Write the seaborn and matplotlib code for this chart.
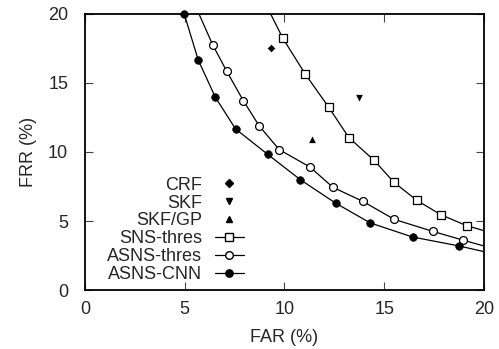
import numpy as np
import pandas as pd
import matplotlib.pyplot as plt
from matplotlib.lines import Line2D
import seaborn as sns

# values (FAR %, FRR %)
cnn_far = [4.98, 5.68, 6.53, 7.55, 9.16, 10.8, 12.56, 14.3, 16.42, 18.76]
cnn_frr = [20.0, 16.67, 13.99, 11.67, 9.83, 7.99, 6.30, 4.86, 3.84, 3.19]
cnn_line_end = (20.0, 2.78)

thr_far = [6.4, 7.1, 7.94, 8.74, 9.74, 11.28, 12.43, 13.92, 15.5, 17.43, 18.93]
thr_frr = [17.78, 15.87, 13.72, 11.88, 10.17, 8.91, 7.44, 6.43, 5.12, 4.25, 3.62]
thr_line_start = (5.72, 20.0)
thr_line_end = (20.0, 3.19)

sns_far = [9.92, 11.04, 12.21, 13.23, 14.49, 15.49, 16.63, 17.83, 19.13]
sns_frr = [18.24, 15.65, 13.26, 11.04, 9.40, 7.8, 6.5, 5.46, 4.66]
sns_line_start = (9.31, 20.0)
sns_line_end = (20.0, 4.30)

crf = (9.34, 17.54)
skf = (13.75, 13.91)
skf_gp = (11.38, 10.92)

sns.set_style("ticks")
plt.rcParams['font.family'] = ['Liberation Sans', 'DejaVu Sans']
plt.rcParams['font.size'] = 13

fig, ax = plt.subplots(figsize=(4.99, 3.49), dpi=100)
fig.subplots_adjust(left=0.170, right=0.970, bottom=0.169, top=0.960)

# curves
cnn_lx = cnn_far + [cnn_line_end[0]]
cnn_ly = cnn_frr + [cnn_line_end[1]]
thr_lx = [thr_line_start[0]] + thr_far + [thr_line_end[0]]
thr_ly = [thr_line_start[1]] + thr_frr + [thr_line_end[1]]
sns_lx = [sns_line_start[0]] + sns_far + [sns_line_end[0]]
sns_ly = [sns_line_start[1]] + sns_frr + [sns_line_end[1]]
for lx, ly in [(sns_lx, sns_ly), (thr_lx, thr_ly), (cnn_lx, cnn_ly)]:
    sns.lineplot(x=lx, y=ly, color='black', lw=0.9, sort=False, ax=ax)

sns.scatterplot(x=sns_far, y=sns_frr, marker='s', s=38, facecolor='white',
                edgecolor='black', linewidth=0.9, ax=ax, zorder=3)
sns.scatterplot(x=thr_far, y=thr_frr, marker='o', s=32, facecolor='white',
                edgecolor='black', linewidth=0.9, ax=ax, zorder=3)
sns.scatterplot(x=cnn_far, y=cnn_frr, marker='o', s=30, color='black',
                edgecolor='black', linewidth=0.5, ax=ax, zorder=3, clip_on=False)
sns.scatterplot(x=[crf[0]], y=[crf[1]], marker='D', s=18, color='black', ax=ax, zorder=3)
sns.scatterplot(x=[skf[0]], y=[skf[1]], marker='v', s=30, color='black', ax=ax, zorder=3)
sns.scatterplot(x=[skf_gp[0]], y=[skf_gp[1]], marker='^', s=30, color='black', ax=ax, zorder=3)

ax.set_xlim(0, 20)
ax.set_ylim(0, 20)
ax.set_xticks([0, 5, 10, 15, 20])
ax.set_yticks([0, 5, 10, 15, 20])
ax.tick_params(direction='in', length=5.5, width=0.8, top=True, right=True, color='#444444')
ax.tick_params(axis='y', pad=12)
ax.tick_params(axis='x', pad=8)
for sp in ax.spines.values():
    sp.set_linewidth(1.3)
    sp.set_color('black')
ax.set_xlabel('FAR (%)', labelpad=8)
ax.set_ylabel('FRR (%)', labelpad=8)

handles = [
    Line2D([], [], ls='', marker='D', ms=3.8, color='black'),
    Line2D([], [], ls='', marker='v', ms=5, color='black'),
    Line2D([], [], ls='', marker='^', ms=5, color='black'),
    Line2D([], [], color='black', lw=0.9, marker='s', ms=6, mfc='white', mec='black'),
    Line2D([], [], color='black', lw=0.9, marker='o', ms=5.5, mfc='white', mec='black'),
    Line2D([], [], color='black', lw=0.9, marker='o', ms=5.3, mfc='black', mec='black'),
]
labels = ['CRF', 'SKF', 'SKF/GP', 'SNS-thres', 'ASNS-thres', 'ASNS-CNN']
ax.legend(handles, labels, loc='lower right', bbox_to_anchor=(0.398, 0.025),
          markerfirst=False, frameon=False, borderpad=0, borderaxespad=0,
          handlelength=1.6, handletextpad=0.7, labelspacing=0.05, fontsize=13)

fig.savefig('out.png', dpi=100)
